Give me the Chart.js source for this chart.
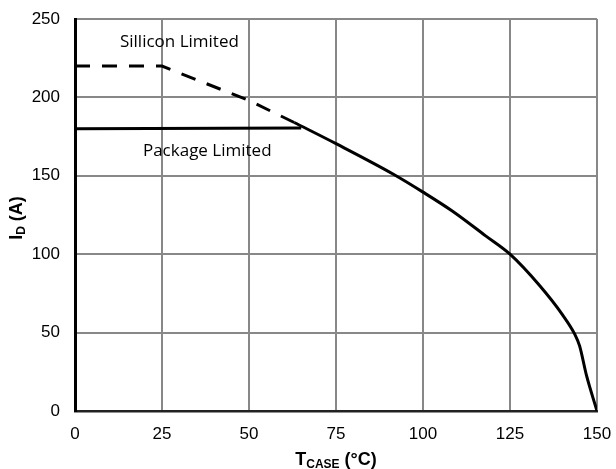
<!DOCTYPE html>
<html>
<head>
<meta charset="utf-8">
<script src="https://cdn.jsdelivr.net/npm/chart.js@4/dist/chart.umd.min.js"></script>
<style>
  html, body { margin: 0; padding: 0; background: #fff; }
  #wrap { width: 616px; height: 469px; }
</style>
</head>
<body>
<div id="wrap"><canvas id="chart" width="616" height="469"></canvas></div>
<script>
// silicon limited (dashed)
const siliconTemp = [0, 25, 50, 63];
const siliconCurrent = [220, 220, 198, 184];
// package limited (flat part)
const packageTemp = [0, 65];
const packageCurrent = [180, 180.5];
// derating curve
const curveTemp = [63, 75, 91.5, 100, 108.3, 118, 125, 133.5, 140.2, 143.6, 145, 147, 150];
const curveCurrent = [184, 170.5, 151, 139.6, 127.7, 111.7, 100, 80, 61, 49, 41.5, 22.5, 0];

const xTicks = [0, 25, 50, 75, 100, 125, 150];
const yTicks = [0, 50, 100, 150, 200, 250];

const toPoints = (xs, ys) => xs.map((x, i) => ({ x, y: ys[i] }));

const lineStyle = { showLine: true, borderColor: '#000', borderWidth: 3, pointRadius: 0, fill: false, tension: 0 };

// text with subscript, drawn centred at (0,0) of current transform
function subText(c, main, sub, rest, size) {
  const big = `bold ${size}px "Liberation Sans", Arial, sans-serif`;
  const small = `bold ${Math.round(size * 0.68)}px "Liberation Sans", Arial, sans-serif`;
  c.font = big; const w1 = c.measureText(main).width; const w3 = c.measureText(rest).width;
  c.font = small; const w2 = c.measureText(sub).width;
  let x = -(w1 + w2 + w3) / 2;
  c.textBaseline = 'alphabetic'; c.textAlign = 'left'; c.fillStyle = '#000';
  c.font = big; c.fillText(main, x, 0); x += w1;
  c.font = small; c.fillText(sub, x, 3); x += w2;
  c.font = big; c.fillText(rest, x, 0);
}

const textPlugin = {
  id: 'texts',
  afterDraw(chart) {
    const c = chart.ctx, xs = chart.scales.x, ys = chart.scales.y;
    c.save();
    c.font = '17px "Open Sans", sans-serif';
    c.fillStyle = '#000'; c.textAlign = 'center'; c.textBaseline = 'middle';
    c.fillText('Sillicon Limited', xs.getPixelForValue(30), ys.getPixelForValue(235));
    c.fillText('Package Limited', xs.getPixelForValue(38), ys.getPixelForValue(166));
    // x title
    c.save();
    c.translate((chart.chartArea.left + chart.chartArea.right) / 2, 465);
    subText(c, 'T', 'CASE', ' (°C)', 18);
    c.restore();
    // y title
    c.save();
    c.translate(22, 218);
    c.rotate(-Math.PI / 2);
    subText(c, 'I', 'D', ' (A)', 18);
    c.restore();
    c.restore();
  }
};

new Chart(document.getElementById('chart'), {
  type: 'scatter',
  data: {
    datasets: [
      { ...lineStyle, data: toPoints(siliconTemp, siliconCurrent), borderDash: [15, 12] },
      { ...lineStyle, data: toPoints(packageTemp, packageCurrent) },
      { ...lineStyle, data: toPoints(curveTemp, curveCurrent), cubicInterpolationMode: 'monotone' }
    ]
  },
  options: {
    responsive: false,
    animation: false,
    layout: { padding: { top: 19, right: 19, left: 0, bottom: 0 } },
    plugins: { legend: { display: false }, tooltip: { enabled: false } },
    scales: {
      x: {
        type: 'linear', min: 0, max: 150,
        afterBuildTicks: s => { s.ticks = xTicks.map(v => ({ value: v })); },
        afterFit: s => { s.height = 58; s.paddingLeft = 0; s.paddingRight = 0; },
        grid: { color: '#888', lineWidth: 2, drawTicks: false },
        border: { color: '#222', width: 2.5 },
        ticks: { color: '#000', padding: 13, font: { family: '"Liberation Sans", Arial, sans-serif', size: 17 } }
      },
      y: {
        type: 'linear', min: 0, max: 250,
        afterBuildTicks: s => { s.ticks = yTicks.map(v => ({ value: v })); },
        afterFit: s => { s.width = 75; s.paddingTop = 0; s.paddingBottom = 0; },
        grid: { color: '#888', lineWidth: 2, drawTicks: false },
        border: { color: '#000', width: 3 },
        ticks: { color: '#000', padding: 15, font: { family: '"Liberation Sans", Arial, sans-serif', size: 17 } }
      }
    }
  },
  plugins: [textPlugin]
});
</script>
</body>
</html>
